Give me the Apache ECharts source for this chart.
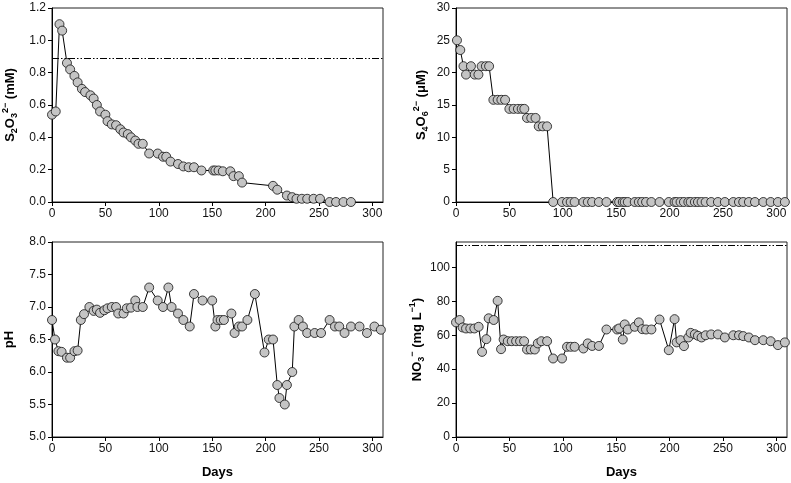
<!DOCTYPE html>
<html><head><meta charset="utf-8">
<script src="https://cdn.jsdelivr.net/npm/echarts@6/dist/echarts.min.js"></script>
<style>html,body{margin:0;padding:0;background:#fff}#c{width:791px;height:483px}</style>
</head><body><div id="c"></div>
<script>
// ---- data ----
const s2o3Days = [0,3.5,7,9.5,14,17,21,24,28,31,36,39,42,45,50,52,56,60,64,67,71,74,78,81,85,91,99,104,107,111,118,123,128,133,140,151,153,156,160,167,170,175,178,207,211,220,225,229,234,239,245,251,260,266,273,280];
const s2o3Vals = [0.54,0.56,1.10,1.06,0.86,0.82,0.78,0.74,0.70,0.68,0.66,0.64,0.60,0.56,0.54,0.50,0.48,0.475,0.45,0.43,0.42,0.40,0.38,0.36,0.36,0.30,0.30,0.28,0.28,0.25,0.235,0.22,0.215,0.215,0.195,0.195,0.195,0.195,0.19,0.19,0.16,0.16,0.12,0.10,0.076,0.04,0.03,0.02,0.02,0.02,0.02,0.02,0.0,0.0,0.0,0.0];
const s2o3Limit = 0.89;

const s4o6Days = [0.9,4,7,9.4,14,17.5,21,24,28,31,35,39,42.5,46,50,54,58,61.5,64,66.5,70.5,74.5,77.5,81.3,85.3,91,99.3,104,107.4,111.1,119.3,123.4,127.5,133.8,140.9,150.9,152.8,156.2,158,160.9,167.4,171.2,174.4,178,183,190.6,199.3,204.7,206.6,210.3,213.5,217.6,219.8,223.7,226.6,230,233.8,239,245.3,251.8,259.7,265,269,274.3,280,287.8,294.7,301.5,308];
const s4o6Vals = [25,23.5,21,19.7,21,19.7,19.7,21,21,21,15.8,15.8,15.8,15.8,14.4,14.4,14.4,14.4,14.4,13,13,13,11.7,11.7,11.7,0,0,0,0,0,0,0,0,0,0,0,0,0,0,0,0,0,0,0,0,0,0,0,0,0,0,0,0,0,0,0,0,0,0,0,0,0,0,0,0,0,0,0,0];

const phDays = [0,2.8,6,9,14,17,21,24,27,30,35,39,42,45,49,52,56,60,62,67,70,74,78,80,85,91,99,104,109,112,118,123,129,133,141,150,153,155,158,161,168,171,175,178,183,190,199,203,207,211,213,218,220,225,227,231,235,239,246,252,260,265,269,274,280,288,295,302,308];
const phVals = [6.8,6.5,6.32,6.31,6.22,6.22,6.32,6.33,6.8,6.89,7.0,6.94,6.96,6.91,6.95,6.98,7.0,7.0,6.9,6.9,6.98,6.99,7.1,7.0,7.0,7.3,7.1,7.0,7.3,7.0,6.9,6.8,6.7,7.2,7.1,7.1,6.7,6.8,6.8,6.8,6.9,6.6,6.7,6.7,6.8,7.2,6.3,6.5,6.5,5.8,5.6,5.5,5.8,6.0,6.7,6.8,6.7,6.6,6.6,6.6,6.8,6.7,6.7,6.6,6.7,6.7,6.6,6.7,6.65];

const no3Days = [0,3.4,6.2,9.4,13.4,17.2,21.2,24.4,28.4,30.6,35.3,39,42.2,44.6,48.5,52.2,56.3,60,63.8,66.5,70,73.8,76.6,80,85.3,90.9,99.3,104,107.4,111.1,119.3,123.4,127.5,133.8,140.9,150.9,152.8,156.2,158,160.9,167.4,171.2,174.4,178,183,190.6,199.3,204.7,206.6,210.3,213.5,217.6,219.8,223.7,226.6,230,233.8,239,245.3,251.8,259.7,265,269,274.3,280,287.8,294.7,301.5,308];
const no3Vals = [67.6,69,64.6,64,64,64,65,50.2,57.7,70,69,80.3,51.8,57.5,56.5,56.5,56.5,56.5,56.5,51.6,51.6,51.6,55.2,56.5,56.5,46.3,46.3,53.2,53.2,53.2,52.2,55.2,53.7,53.7,63.4,63.4,64,57.5,66.4,63.4,65,67.6,63.6,63.4,63.4,69.3,51.2,69.5,55.8,57.1,53.6,58.7,61.4,60.6,59.7,58.7,60,60.5,60.5,58.7,60,60,59.5,58.7,57.1,57.1,56.5,54.2,55.8];
const no3Limit = 113;

const xTickLabels = ['0','50','100','150','200','250','300'];

// ---- chart ----
const FONT = 'Liberation Sans, Arial, Helvetica, sans-serif';
const zip = (a, b) => a.map((d, i) => [d, b[i]]);
const rich = {
  b: {fontSize: 13, fontWeight: 'bold', fontFamily: FONT, color: '#000', lineHeight: 18},
  sub: {fontSize: 9, fontWeight: 'bold', fontFamily: FONT, color: '#000', lineHeight: 9, verticalAlign: 'bottom'},
  sup: {fontSize: 9, fontWeight: 'bold', fontFamily: FONT, color: '#000', lineHeight: 9, verticalAlign: 'top'}
};
const grids = [
  {left: 52, top: 8, width: 331, height: 194},
  {left: 456, top: 8, width: 331, height: 194},
  {left: 52, top: 242, width: 331, height: 195},
  {left: 456, top: 242, width: 331, height: 195}
].map(g => Object.assign({show: true, borderColor: '#222', borderWidth: 1, backgroundColor: 'transparent'}, g));

function xAxis(i, withName) {
  return {
    type: 'value', gridIndex: i, min: 0, max: 310, interval: 50,
    name: withName ? 'Days' : '', nameLocation: 'middle', nameGap: 29,
    nameTextStyle: {fontSize: 13, fontWeight: 'bold', fontFamily: FONT, color: '#000'},
    axisLine: {show: true, lineStyle: {color: '#000', width: 1}},
    axisTick: {show: true, inside: false, length: 4, lineStyle: {color: '#000'}},
    axisLabel: {fontSize: 12, fontFamily: FONT, color: '#111', margin: 6, showMaxLabel: false,
      formatter: v => { const k = xTickLabels.indexOf(String(v)); return k >= 0 ? xTickLabels[k] : ''; }},
    splitLine: {show: false}
  };
}
function yAxis(i, min, max, interval, name, gap, fmt, showMax) {
  return {
    type: 'value', gridIndex: i, min, max, interval,
    name, nameLocation: 'middle', nameGap: gap,
    nameTextStyle: {fontSize: 13, fontWeight: 'bold', fontFamily: FONT, color: '#000', rich},
    axisLine: {show: true, lineStyle: {color: '#000', width: 1}},
    axisTick: {show: true, inside: false, length: 4, lineStyle: {color: '#000'}},
    axisLabel: {fontSize: 12, fontFamily: FONT, color: '#111', margin: 6, showMaxLabel: showMax, showMinLabel: true, formatter: fmt},
    splitLine: {show: false}
  };
}
function series(i, days, vals, limit) {
  const s = {
    type: 'line', xAxisIndex: i, yAxisIndex: i, data: zip(days, vals),
    symbol: 'circle', symbolSize: 9,
    lineStyle: {color: '#000', width: 1},
    itemStyle: {color: '#c4c4c4', borderColor: '#111', borderWidth: 0.8},
    emphasis: {disabled: true}
  };
  if (limit != null) {
    s.markLine = {silent: true, symbol: 'none', label: {show: false},
      lineStyle: {color: '#000', width: 1, type: [7, 2, 1.5, 2, 1.5, 2]},
      data: [{yAxis: limit}]};
  }
  return s;
}
const chart = echarts.init(document.getElementById('c'), null, {renderer: 'canvas'});
chart.setOption({
  animation: false,
  backgroundColor: '#fff',
  grid: grids,
  xAxis: [xAxis(0, false), xAxis(1, false), xAxis(2, true), xAxis(3, true)],
  yAxis: [
    yAxis(0, 0, 1.2, 0.2, '{b|S}{sub|2}{b|O}{sub|3}{sup|2−}{b| (mM)}', 33, v => v.toFixed(1), true),
    yAxis(1, 0, 30, 5, '{b|S}{sub|4}{b|O}{sub|6}{sup|2−}{b| (μM)}', 26, v => String(v), true),
    yAxis(2, 5, 8, 0.5, '{b|pH}', 34, v => v.toFixed(1), true),
    yAxis(3, 0, 115, 20, '{b|NO}{sub|3}{sup|−}{b| (mg L}{sup|−1}{b|)}', 29, v => (Math.round(v) % 20 === 0 ? String(Math.round(v)) : ''), false)
  ],
  series: [
    series(0, s2o3Days, s2o3Vals, s2o3Limit),
    series(1, s4o6Days, s4o6Vals, null),
    series(2, phDays, phVals, null),
    series(3, no3Days, no3Vals, no3Limit)
  ]
});
</script></body></html>
